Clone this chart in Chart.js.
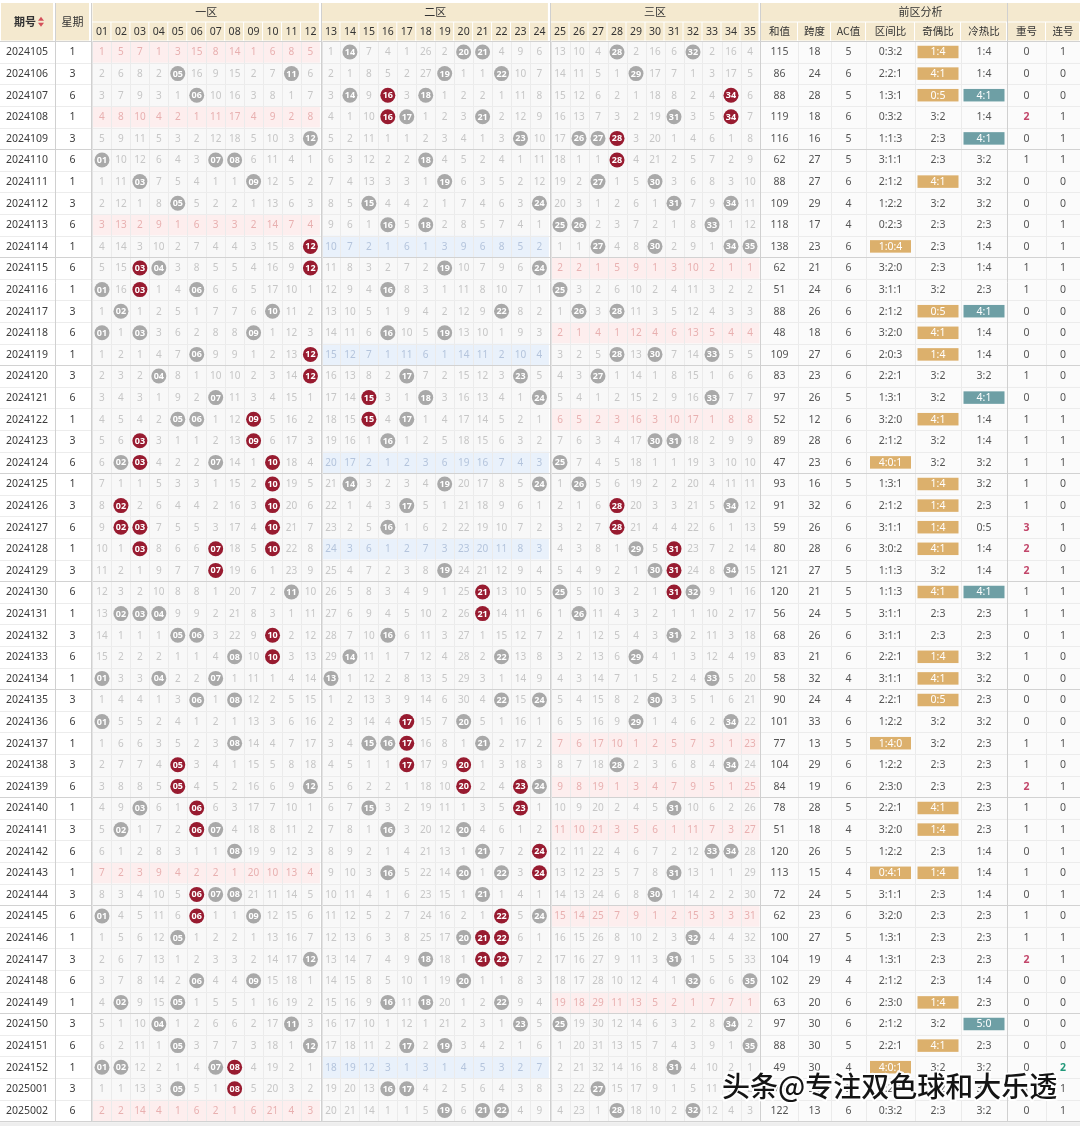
<!DOCTYPE html>
<html>
<head>
<meta charset="utf-8">
<script src="https://cdn.jsdelivr.net/npm/chart.js@4.4.1/dist/chart.umd.min.js"></script>
<style>
  html, body { margin: 0; padding: 0; background: #ffffff; }
  canvas { display: block; }
</style>
</head>
<body>
<canvas id="trendChart" width="1080" height="1126"></canvas>
<script>
const issues = [
  "2024105","2024106","2024107","2024108","2024109","2024110","2024111","2024112","2024113","2024114",
  "2024115","2024116","2024117","2024118","2024119","2024120","2024121","2024122","2024123","2024124",
  "2024125","2024126","2024127","2024128","2024129","2024130","2024131","2024132","2024133","2024134",
  "2024135","2024136","2024137","2024138","2024139","2024140","2024141","2024142","2024143","2024144",
  "2024145","2024146","2024147","2024148","2024149","2024150","2024151","2024152","2025001","2025002"
];
const weekdays = [1,3,6,1,3,6,1,3,6,1, 6,1,3,6,1,3,6,1,3,6, 1,3,6,1,3,6,1,3,6,1, 3,6,1,3,6,1,3,6,1,3, 6,1,3,6,1,3,6,1,3,6];

// 遗漏值 01..35, 0 = 开出号码
const omission = [
  [1,5,7,1,3,15,8,14,1,6,8,5, 1,0,7,4,1,26,2,0,0,4,9,6, 13,10,4,0,2,16,6,0,2,16,4],
  [2,6,8,2,0,16,9,15,2,7,0,6, 2,1,8,5,2,27,0,1,1,0,10,7, 14,11,5,1,0,17,7,1,3,17,5],
  [3,7,9,3,1,0,10,16,3,8,1,7, 3,0,9,0,3,0,1,2,2,1,11,8, 15,12,6,2,1,18,8,2,4,0,6],
  [4,8,10,4,2,1,11,17,4,9,2,8, 4,1,10,0,0,1,2,3,0,2,12,9, 16,13,7,3,2,19,0,3,5,0,7],
  [5,9,11,5,3,2,12,18,5,10,3,0, 5,2,11,1,1,2,3,4,1,3,0,10, 17,0,0,0,3,20,1,4,6,1,8],
  [0,10,12,6,4,3,0,0,6,11,4,1, 6,3,12,2,2,0,4,5,2,4,1,11, 18,1,1,0,4,21,2,5,7,2,9],
  [1,11,0,7,5,4,1,1,0,12,5,2, 7,4,13,3,3,1,0,6,3,5,2,12, 19,2,0,1,5,0,3,6,8,3,10],
  [2,12,1,8,0,5,2,2,1,13,6,3, 8,5,0,4,4,2,1,7,4,6,3,0, 20,3,1,2,6,1,0,7,9,0,11],
  [3,13,2,9,1,6,3,3,2,14,7,4, 9,6,1,0,5,0,2,8,5,7,4,1, 0,0,2,3,7,2,1,8,0,1,12],
  [4,14,3,10,2,7,4,4,3,15,8,0, 10,7,2,1,6,1,3,9,6,8,5,2, 1,1,0,4,8,0,2,9,1,0,0],
  [5,15,0,0,3,8,5,5,4,16,9,0, 11,8,3,2,7,2,0,10,7,9,6,0, 2,2,1,5,9,1,3,10,2,1,1],
  [0,16,0,1,4,0,6,6,5,17,10,1, 12,9,4,0,8,3,1,11,8,10,7,1, 0,3,2,6,10,2,4,11,3,2,2],
  [1,0,1,2,5,1,7,7,6,0,11,2, 13,10,5,1,9,4,2,12,9,0,8,2, 1,0,3,0,11,3,5,12,4,3,3],
  [0,1,0,3,6,2,8,8,0,1,12,3, 14,11,6,0,10,5,0,13,10,1,9,3, 2,1,4,1,12,4,6,13,5,4,4],
  [1,2,1,4,7,0,9,9,1,2,13,0, 15,12,7,1,11,6,1,14,11,2,10,4, 3,2,5,0,13,0,7,14,0,5,5],
  [2,3,2,0,8,1,10,10,2,3,14,0, 16,13,8,2,0,7,2,15,12,3,0,5, 4,3,0,1,14,1,8,15,1,6,6],
  [3,4,3,1,9,2,0,11,3,4,15,1, 17,14,0,3,1,0,3,16,13,4,1,0, 5,4,1,2,15,2,9,16,0,7,7],
  [4,5,4,2,0,0,1,12,0,5,16,2, 18,15,0,4,0,1,4,17,14,5,2,1, 6,5,2,3,16,3,10,17,1,8,8],
  [5,6,0,3,1,1,2,13,0,6,17,3, 19,16,1,0,1,2,5,18,15,6,3,2, 7,6,3,4,17,0,0,18,2,9,9],
  [6,0,0,4,2,2,0,14,1,0,18,4, 20,17,2,1,2,3,6,19,16,7,4,3, 0,7,4,5,18,1,1,19,3,10,10],
  [7,1,1,5,3,3,1,15,2,0,19,5, 21,0,3,2,3,4,0,20,17,8,5,0, 1,0,5,6,19,2,2,20,4,11,11],
  [8,0,2,6,4,4,2,16,3,0,20,6, 22,1,4,3,0,5,1,21,18,9,6,1, 2,1,6,0,20,3,3,21,5,0,12],
  [9,0,0,7,5,5,3,17,4,0,21,7, 23,2,5,0,1,6,2,22,19,10,7,2, 3,2,7,0,21,4,4,22,6,1,13],
  [10,1,0,8,6,6,0,18,5,0,22,8, 24,3,6,1,2,7,3,23,20,11,8,3, 4,3,8,1,0,5,0,23,7,2,14],
  [11,2,1,9,7,7,0,19,6,1,23,9, 25,4,7,2,3,8,0,24,21,12,9,4, 5,4,9,2,1,0,0,24,8,0,15],
  [12,3,2,10,8,8,1,20,7,2,0,10, 26,5,8,3,4,9,1,25,0,13,10,5, 0,5,10,3,2,1,0,0,9,1,16],
  [13,0,0,0,9,9,2,21,8,3,1,11, 27,6,9,4,5,10,2,26,0,14,11,6, 1,0,11,4,3,2,1,1,10,2,17],
  [14,1,1,1,0,0,3,22,9,0,2,12, 28,7,10,0,6,11,3,27,1,15,12,7, 2,1,12,5,4,3,0,2,11,3,18],
  [15,2,2,2,1,1,4,0,10,0,3,13, 29,0,11,1,7,12,4,28,2,0,13,8, 3,2,13,6,0,4,1,3,12,4,19],
  [0,3,3,0,2,2,0,1,11,1,4,14, 0,1,12,2,8,13,5,29,3,1,14,9, 4,3,14,7,1,5,2,4,0,5,20],
  [1,4,4,1,3,0,1,0,12,2,5,15, 1,2,13,3,9,14,6,30,4,0,15,0, 5,4,15,8,2,0,3,5,1,6,21],
  [0,5,5,2,4,1,2,1,13,3,6,16, 2,3,14,4,0,15,7,0,5,1,16,1, 6,5,16,9,0,1,4,6,2,0,22],
  [1,6,6,3,5,2,3,0,14,4,7,17, 3,4,0,0,0,16,8,1,0,2,17,2, 7,6,17,10,1,2,5,7,3,1,23],
  [2,7,7,4,0,3,4,1,15,5,8,18, 4,5,1,1,0,17,9,0,1,3,18,3, 8,7,18,0,2,3,6,8,4,0,24],
  [3,8,8,5,0,4,5,2,16,6,9,0, 5,6,2,2,1,18,10,0,2,4,0,0, 9,8,19,1,3,4,7,9,5,1,25],
  [4,9,0,6,1,0,6,3,17,7,10,1, 6,7,0,3,2,19,11,1,3,5,0,1, 10,9,20,2,4,5,0,10,6,2,26],
  [5,0,1,7,2,0,0,4,18,8,11,2, 7,8,1,0,3,20,12,0,4,6,1,2, 11,10,21,3,5,6,1,11,7,3,27],
  [6,1,2,8,3,1,1,0,19,9,12,3, 8,9,2,1,4,21,13,1,0,7,2,0, 12,11,22,4,6,7,2,12,0,0,28],
  [7,2,3,9,4,2,2,1,20,10,13,4, 9,10,3,0,5,22,14,0,1,0,3,0, 13,12,23,5,7,8,0,13,1,1,29],
  [8,3,4,10,5,0,0,0,21,11,14,5, 10,11,4,1,6,23,15,1,0,1,4,1, 14,13,24,6,8,0,1,14,2,2,30],
  [0,4,5,11,6,0,1,1,0,12,15,6, 11,12,5,2,7,24,16,2,1,0,5,0, 15,14,25,7,9,1,2,15,3,3,31],
  [1,5,6,12,0,1,2,2,1,13,16,7, 12,13,6,3,8,25,17,0,0,0,6,1, 16,15,26,8,10,2,3,0,4,4,32],
  [2,6,7,13,1,2,3,3,2,14,17,0, 13,14,7,4,9,0,18,1,0,0,7,2, 17,16,27,9,11,3,0,1,5,5,33],
  [3,7,8,14,2,0,4,4,0,15,18,1, 14,15,8,5,10,1,19,0,1,1,8,3, 18,17,28,10,12,4,1,0,6,6,0],
  [4,0,9,15,0,1,5,5,1,16,19,2, 15,16,9,0,11,0,20,1,2,0,9,4, 19,18,29,11,13,5,2,1,7,7,1],
  [5,1,10,0,1,2,6,6,2,17,0,3, 16,17,10,1,12,1,21,2,3,1,0,5, 0,19,30,12,14,6,3,2,8,0,2],
  [6,2,11,1,0,3,7,7,3,18,1,0, 17,18,11,2,0,2,0,3,4,2,1,6, 1,20,31,13,15,7,4,3,9,1,0],
  [0,0,12,2,1,4,0,0,4,19,2,1, 18,19,12,3,1,3,1,4,5,3,2,7, 2,21,32,14,16,8,0,4,10,2,1],
  [1,1,13,3,0,5,1,0,5,20,3,2, 19,20,13,0,0,4,2,5,6,4,3,8, 3,22,0,15,17,9,1,5,11,3,2],
  [2,2,14,4,1,6,2,1,6,21,4,3, 20,21,14,1,1,5,0,6,0,0,4,9, 4,23,1,0,18,10,2,0,12,4,3]
];

// 红色标记的号码
const redBalls = [
  [],[],[16,34],[16,34],[28],[28],[],[],[],[12],
  [3,12],[3],[],[],[12],[12],[15],[9,15],[3,9],[3,10],
  [10],[2,10,28],[2,3,10,28],[3,7,10,31],[7,31],[21,31],[21],[10],[10],[],
  [],[17],[17],[5,17,20],[5,20,23],[6,23],[6],[24],[24],[6],
  [6,22],[21,22],[21,22],[],[],[],[],[8],[8],[]
];

const sumVals = [115,86,88,119,116,62,88,109,118,138, 62,51,88,48,109,83,97,52,89,47, 93,91,59,80,121,120,56,68,83,58, 90,101,77,104,84,78,51,120,113,72, 62,100,104,102,63,97,88,49,73,122];
const spanVals = [18,24,28,18,16,27,27,29,17,23, 21,24,26,18,27,23,26,12,28,23, 16,32,26,28,27,21,24,26,21,32, 24,33,13,29,19,28,18,26,15,24, 23,27,19,29,20,30,30,30,22,13];
const acVals = [5,6,5,6,5,5,6,4,4,6, 6,6,6,6,6,6,5,6,6,6, 5,6,6,6,5,5,5,6,6,4, 4,6,5,6,6,5,4,5,4,5, 6,5,4,4,6,6,5,4,5,6];
const zoneRatio = ["0:3:2","2:2:1","1:3:1","0:3:2","1:1:3","3:1:1","2:1:2","1:2:2","0:2:3","1:0:4",
  "3:2:0","3:1:1","2:1:2","3:2:0","2:0:3","2:2:1","1:3:1","3:2:0","2:1:2","4:0:1",
  "1:3:1","2:1:2","3:1:1","3:0:2","1:1:3","1:1:3","3:1:1","3:1:1","2:2:1","3:1:1",
  "2:2:1","1:2:2","1:4:0","1:2:2","2:3:0","2:2:1","3:2:0","1:2:2","0:4:1","3:1:1",
  "3:2:0","1:3:1","1:3:1","2:1:2","2:3:0","2:1:2","2:2:1","4:0:1","2:2:1","0:3:2"];
const oddEven = ["1:4","4:1","0:5","3:2","2:3","2:3","4:1","3:2","2:3","2:3",
  "2:3","3:2","0:5","4:1","1:4","3:2","3:2","4:1","3:2","3:2",
  "1:4","1:4","1:4","4:1","3:2","4:1","2:3","2:3","1:4","4:1",
  "0:5","3:2","3:2","2:3","2:3","4:1","1:4","2:3","1:4","2:3",
  "2:3","2:3","2:3","2:3","1:4","3:2","4:1","3:2","3:2","2:3"];
const coldHot = ["1:4","1:4","4:1","1:4","4:1","3:2","3:2","3:2","2:3","1:4",
  "1:4","2:3","4:1","1:4","1:4","3:2","4:1","1:4","1:4","3:2",
  "3:2","2:3","0:5","1:4","1:4","4:1","2:3","2:3","3:2","3:2",
  "2:3","3:2","2:3","2:3","2:3","2:3","2:3","1:4","1:4","1:4",
  "2:3","2:3","2:3","1:4","2:3","5:0","2:3","3:2","3:2","3:2"];
const repeatCnt = [0,0,0,2,0,1,0,0,0,0, 1,1,0,0,0,1,0,1,1,1, 1,1,3,2,2,1,1,0,1,0, 0,0,1,1,2,1,1,0,1,0, 1,1,2,0,0,0,0,0,1,0];
const consecCnt = [1,0,0,1,1,1,0,0,1,1, 1,0,0,0,0,0,0,1,1,1, 0,0,1,0,1,1,1,1,0,0, 0,0,1,0,1,0,1,1,0,1, 0,1,1,0,0,0,0,2,1,1];

const zoneHeads = ["一区", "二区", "三区"];
const statHeads = ["和值", "跨度", "AC值", "区间比", "奇偶比", "冷热比", "重号", "连号"];

// layout (x in px units, y in row units)
const ROW_H = 21.6, ROW0 = 52;
const zoneStart = [1, 13, 25];
const zoneCount = [12, 12, 11];
const zoneLeft = [92.5, 321.5, 550.5];
const cellW = [18.95, 18.95, 19.0];
const statEdges = [761, 798, 831, 866, 915, 961, 1007, 1046, 1080];
const FONT = "'Noto Sans', 'Open Sans', sans-serif";
const CJK = "'Noto Sans CJK SC', sans-serif";

function zoneOf(n) { return n <= 12 ? 0 : (n <= 24 ? 1 : 2); }
function ballX(n) {
  const z = zoneOf(n);
  return zoneLeft[z] + cellW[z] * (n - zoneStart[z] + 0.5);
}
function pad(n) { return String(n).padStart(2, "0"); }
function rowOf(px) { return (px - ROW0) / ROW_H; }

const grayPts = [], redPts = [];
omission.forEach((row, r) => {
  row.forEach((v, i) => {
    if (v !== 0) return;
    const n = i + 1;
    const p = { x: ballX(n), y: r, n: n };
    if (redBalls[r].includes(n)) redPts.push(p); else grayPts.push(p);
  });
});

const tablePlugin = {
  id: "tablePlugin",
  beforeDatasetsDraw(chart) {
    const { ctx, scales: { x, y } } = chart;
    const X = v => x.getPixelForValue(v);
    const Y = v => y.getPixelForValue(v);
    const nRows = issues.length;
    const bodyTop = Y(-0.5), bodyBot = Y(nRows - 0.5);

    ctx.save();
    ctx.fillStyle = "#ffffff";
    ctx.fillRect(0, 0, chart.width, chart.height);

    // header
    const h1t = Y(rowOf(3)), h1b = Y(rowOf(21.5)), h2t = Y(rowOf(22.5)), h2b = Y(rowOf(40.5));
    ctx.fillStyle = "#f4e9cf";
    ctx.fillRect(X(1), h1t, X(53) - X(1), h2b - h1t);
    ctx.fillRect(X(56), h1t, X(89) - X(56), h2b - h1t);
    for (let z = 0; z < 3; z++) {
      const l = zoneLeft[z], r = l + cellW[z] * zoneCount[z];
      ctx.fillRect(X(l), h1t, X(r) - X(l) - 1, h1b - h1t);
      for (let i = 0; i < zoneCount[z]; i++) {
        const cl = l + cellW[z] * i;
        ctx.fillRect(X(cl), h2t, X(cl + cellW[z]) - X(cl) - 1, h2b - h2t);
      }
    }
    ctx.fillRect(X(statEdges[0]), h1t, X(1080) - X(statEdges[0]), h1b - h1t);
    for (let s = 0; s < 8; s++) {
      ctx.fillRect(X(statEdges[s]), h2t, X(statEdges[s + 1]) - X(statEdges[s]) - 1, h2b - h2t);
    }

    ctx.fillStyle = "#333333";
    ctx.textAlign = "center";
    ctx.textBaseline = "middle";
    ctx.font = "bold 11px " + CJK;
    ctx.fillText("期号", X(25), (h1t + h2b) / 2);
    ctx.font = "11px " + CJK;
    ctx.fillText("星期", X(72.5), (h1t + h2b) / 2);
    // sort icon
    ctx.fillStyle = "#d4505a";
    const ix = X(41), iy = (h1t + h2b) / 2;
    ctx.beginPath(); ctx.moveTo(ix - 3, iy - 1); ctx.lineTo(ix + 3, iy - 1); ctx.lineTo(ix, iy - 5); ctx.closePath(); ctx.fill();
    ctx.beginPath(); ctx.moveTo(ix - 3, iy + 1); ctx.lineTo(ix + 3, iy + 1); ctx.lineTo(ix, iy + 5); ctx.closePath(); ctx.fill();

    ctx.fillStyle = "#333333";
    ctx.font = "11px " + CJK;
    for (let z = 0; z < 3; z++) {
      const l = zoneLeft[z], r = l + cellW[z] * zoneCount[z];
      ctx.fillText(zoneHeads[z], X((l + r) / 2), (h1t + h1b) / 2);
      ctx.font = "10.5px " + FONT;
      for (let i = 0; i < zoneCount[z]; i++) {
        ctx.fillText(pad(zoneStart[z] + i), X(ballX(zoneStart[z] + i)), (h2t + h2b) / 2 + 0.5);
      }
      ctx.font = "11px " + CJK;
    }
    ctx.fillText("前区分析", X((statEdges[0] + 1080) / 2), (h1t + h1b) / 2);
    ctx.font = "10.5px " + CJK;
    for (let s = 0; s < 8; s++) {
      ctx.fillText(statHeads[s], X((statEdges[s] + statEdges[s + 1]) / 2), (h2t + h2b) / 2);
    }

    // body backgrounds
    for (let r = 0; r < nRows; r++) {
      const top = Y(r - 0.5), bot = Y(r + 0.5);
      for (let z = 0; z < 3; z++) {
        const l = zoneLeft[z], w = cellW[z] * zoneCount[z];
        let hits = 0;
        for (let i = 0; i < zoneCount[z]; i++) if (omission[r][zoneStart[z] - 1 + i] === 0) hits++;
        ctx.fillStyle = hits === 0 ? (z === 1 ? "#e9f1fb" : "#fdeeee") : "#f8f8f8";
        ctx.fillRect(X(l), top, X(l + w) - X(l), bot - top);
      }
      ctx.fillStyle = "#fbfbfb";
      ctx.fillRect(X(statEdges[0]), top, X(1080) - X(statEdges[0]), bot - top);
    }

    // grid lines
    ctx.lineWidth = 1;
    ctx.strokeStyle = "#ebebeb";
    for (let z = 0; z < 3; z++) {
      for (let i = 1; i < zoneCount[z]; i++) {
        const xx = Math.round(X(zoneLeft[z] + cellW[z] * i)) + 0.5;
        ctx.beginPath(); ctx.moveTo(xx, bodyTop); ctx.lineTo(xx, bodyBot); ctx.stroke();
      }
    }
    for (let s = 1; s < 8; s++) {
      if (s === 6) continue;
      const xx = Math.round(X(statEdges[s])) + 0.5;
      ctx.beginPath(); ctx.moveTo(xx, bodyTop); ctx.lineTo(xx, bodyBot); ctx.stroke();
    }
    for (let r = 0; r <= nRows; r++) {
      const yy = Math.round(Y(r - 0.5)) + 0.5;
      ctx.strokeStyle = (r % 5 === 0) ? "#d2d2d2" : "#ececec";
      ctx.beginPath(); ctx.moveTo(0, yy); ctx.lineTo(chart.width, yy); ctx.stroke();
    }
    ctx.strokeStyle = "#d0d0d0";
    [55, 90.5, 320.5, 549.5, 760, 1007].forEach(v => {
      const xx = Math.round(X(v)) + 0.5;
      ctx.beginPath(); ctx.moveTo(xx, h1t); ctx.lineTo(xx, bodyBot); ctx.stroke();
    });
    ctx.strokeStyle = "#e4e4e4";
    [92, 322, 551].forEach(v => {
      const xx = Math.round(X(v)) + 0.5;
      ctx.beginPath(); ctx.moveTo(xx, bodyTop); ctx.lineTo(xx, bodyBot); ctx.stroke();
    });
    ctx.fillStyle = "#eeeeee";
    ctx.fillRect(0, bodyBot + 1, chart.width, chart.height - bodyBot);

    // body text
    for (let r = 0; r < nRows; r++) {
      const cy = Y(r) + 0.5;
      ctx.fillStyle = "#3c3c3c";
      ctx.font = "10.5px " + FONT;
      ctx.fillText(issues[r], X(27), cy);
      ctx.fillText(String(weekdays[r]), X(72.5), cy);

      ctx.font = "10px " + FONT;
      for (let z = 0; z < 3; z++) {
        let hits = 0;
        for (let i = 0; i < zoneCount[z]; i++) if (omission[r][zoneStart[z] - 1 + i] === 0) hits++;
        ctx.fillStyle = hits === 0 ? (z === 1 ? "#b4c4dc" : "#e8b0b0") : "#c6c6c6";
        for (let i = 0; i < zoneCount[z]; i++) {
          const v = omission[r][zoneStart[z] - 1 + i];
          if (v === 0) continue;
          ctx.fillText(String(v), X(ballX(zoneStart[z] + i)), cy);
        }
      }

      // stats
      const sc = s => X((statEdges[s] + statEdges[s + 1]) / 2);
      const badge = (s, txt, color) => {
        const w = 41, h = 12.5;
        ctx.fillStyle = color;
        ctx.fillRect(sc(s) - w / 2, cy - h / 2 - 0.5, w, h);
        ctx.fillStyle = "#ffffff";
        ctx.fillText(txt, sc(s), cy);
      };
      ctx.font = "10.5px " + FONT;
      ctx.fillStyle = "#555555";
      ctx.fillText(String(sumVals[r]), sc(0), cy);
      ctx.fillText(String(spanVals[r]), sc(1), cy);
      ctx.fillText(String(acVals[r]), sc(2), cy);

      const zr = zoneRatio[r].split(":").map(Number);
      if (Math.max(...zr) >= 4) badge(3, zoneRatio[r], "#dcb06c");
      else { ctx.fillStyle = "#555555"; ctx.fillText(zoneRatio[r], sc(3), cy); }

      const oe = oddEven[r].split(":").map(Number);
      if (Math.max(...oe) >= 4) badge(4, oddEven[r], "#dcb06c");
      else { ctx.fillStyle = "#555555"; ctx.fillText(oddEven[r], sc(4), cy); }

      const ch = coldHot[r].split(":").map(Number);
      if (ch[0] >= 4) badge(5, coldHot[r], "#6e9fa5");
      else { ctx.fillStyle = "#555555"; ctx.fillText(coldHot[r], sc(5), cy); }

      ctx.fillStyle = repeatCnt[r] >= 2 ? "#c2466a" : "#555555";
      ctx.font = (repeatCnt[r] >= 2 ? "bold " : "") + "10.5px " + FONT;
      ctx.fillText(String(repeatCnt[r]), sc(6), cy);
      ctx.fillStyle = consecCnt[r] >= 2 ? "#22997a" : "#555555";
      ctx.font = (consecCnt[r] >= 2 ? "bold " : "") + "10.5px " + FONT;
      ctx.fillText(String(consecCnt[r]), sc(7), cy);
    }
    ctx.restore();
  },
  afterDatasetsDraw(chart) {
    const { ctx } = chart;
    ctx.save();
    ctx.fillStyle = "#ffffff";
    ctx.font = "bold 9px " + FONT;
    ctx.textAlign = "center";
    ctx.textBaseline = "middle";
    chart.data.datasets.forEach((ds, di) => {
      chart.getDatasetMeta(di).data.forEach((el, i) => {
        ctx.fillText(pad(ds.data[i].n), el.x, el.y + 0.5);
      });
    });
    // watermark
    ctx.font = "500 28px " + CJK;
    ctx.textAlign = "left";
    ctx.lineWidth = 4;
    ctx.strokeStyle = "rgba(255,255,255,0.95)";
    ctx.strokeText("头条@专注双色球和大乐透", 722, 1086);
    ctx.fillStyle = "#141414";
    ctx.fillText("头条@专注双色球和大乐透", 722, 1086);
    ctx.restore();
  }
};

const ctx = document.getElementById("trendChart");
const trendChart = new Chart(ctx, {
  type: "scatter",
  data: {
    datasets: [
      {
        label: "开出",
        data: grayPts,
        backgroundColor: "#a9a9a9",
        borderWidth: 0,
        pointRadius: 7.5,
        pointHoverRadius: 7.5
      },
      {
        label: "重复",
        data: redPts,
        backgroundColor: "#981b30",
        borderWidth: 0,
        pointRadius: 7.5,
        pointHoverRadius: 7.5
      }
    ]
  },
  plugins: [tablePlugin],
  options: {
    responsive: false,
    animation: false,
    devicePixelRatio: 1,
    events: [],
    layout: { padding: 0, autoPadding: false },
    plugins: {
      legend: { display: false },
      tooltip: { enabled: false }
    },
    scales: {
      x: { type: "linear", min: 0, max: 1080, display: false },
      y: { type: "linear", min: rowOf(0), max: rowOf(1126), reverse: true, display: false }
    }
  }
});
</script>
</body>
</html>
